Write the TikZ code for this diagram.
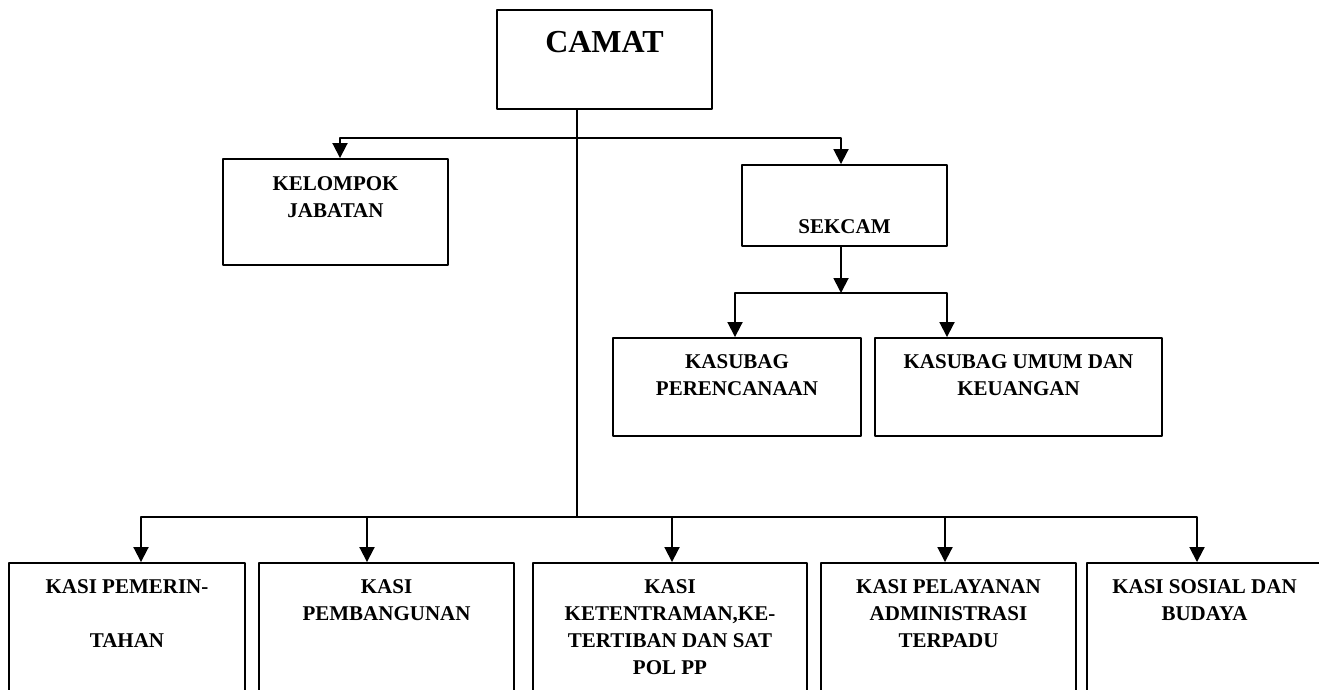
\documentclass[tikz,border=0pt]{standalone}
\usepackage{fontspec}
\setmainfont{Liberation Serif}
\usetikzlibrary{arrows.meta,positioning}
\tikzset{
	unitbox/.style={draw, rectangle, inner sep=0pt, line width=1.9pt},
	unitlabel/.style={inner sep=0pt, align=center, font=\fontsize{21}{26.7}\selectfont\bfseries},
}
\begin{document}
\begin{tikzpicture}[x=1pt, y=-1pt, line width=1.9pt, line join=round, >={Triangle[length=15pt,width=15pt]}]
	\useasboundingbox[fill=white] (0,0) rectangle (1319,690);
	
	% kotak jabatan
	\node[unitbox, minimum width=215pt, minimum height=99pt] (camat) at (604.5,59.5) {};
	\node[unitbox, minimum width=225pt, minimum height=106pt] (kelompok) at (335.5,212) {};
	\node[unitbox, minimum width=205pt, minimum height=81pt] (sekcam) at (844.5,205.5) {};
	\node[unitbox, minimum width=248pt, minimum height=98pt] (rencana) at (737,387) {};
	\node[unitbox, minimum width=287pt, minimum height=98pt] (umum) at (1018.5,387) {};
	\node[unitbox, minimum width=236pt, minimum height=157pt] (kasi1) at (127,641.5) {};
	\node[unitbox, minimum width=255pt, minimum height=157pt] (kasi2) at (386.5,641.5) {};
	\node[unitbox, minimum width=274pt, minimum height=157pt] (kasi3) at (670,641.5) {};
	\node[unitbox, minimum width=255pt, minimum height=157pt] (kasi4) at (948.5,641.5) {};
	\node[unitbox, minimum width=235pt, minimum height=157pt] (kasi5) at (1204.5,641.5) {};
	
	% teks
	\node[unitlabel, font=\fontsize{32}{38}\selectfont\bfseries, below=21pt of camat.north] (camat-t) {CAMAT};
	\node[unitlabel, below=18pt of kelompok.north] (kelompok-t) {KELOMPOK\\JABATAN};
	\node[unitlabel, below=55pt of sekcam.north] (sekcam-t) {SEKCAM};
	\node[unitlabel, below=17pt of rencana.north] (rencana-t) {KASUBAG\\PERENCANAAN};
	\node[unitlabel, below=17pt of umum.north] (umum-t) {KASUBAG UMUM DAN\\KEUANGAN};
	\node[unitlabel, below=17pt of kasi1.north] (kasi1-t) {KASI PEMERIN-\\[26.7pt]TAHAN};
	\node[unitlabel, below=17pt of kasi2.north] (kasi2-t) {KASI\\PEMBANGUNAN};
	\node[unitlabel, below=17pt of kasi3.north] (kasi3-t) {KASI\\KETENTRAMAN,KE-\\TERTIBAN DAN SAT\\POL PP};
	\node[unitlabel, below=17pt of kasi4.north] (kasi4-t) {KASI PELAYANAN\\ADMINISTRASI\\TERPADU};
	\node[unitlabel, below=17pt of kasi5.north] (kasi5-t) {KASI SOSIAL DAN\\BUDAYA};
	
	% titik cabang
	\path (577,138) coordinate (top)
		(340,138) coordinate (kel)
		(841,138) coordinate (sek)
		(841,293) coordinate (sub)
		(735,293) coordinate (ren)
		(947,293) coordinate (uang)
		(577,517) coordinate (bawah)
		(141,517) coordinate (k1)
		(367,517) coordinate (k2)
		(672,517) coordinate (k3)
		(945,517) coordinate (k4)
		(1197,517) coordinate (k5);
	
	\draw (top |- camat.south) -- (bawah);
	\draw[->] (top) -| (kel |- kelompok.north);
	\draw[->] (top) -| (sek |- sekcam.north);
	\draw[->] (sek |- sekcam.south) -- (sub);
	\draw[->] (sub) -| (ren |- rencana.north);
	\draw[->] (sub) -| (uang |- umum.north);
	\foreach \i in {1,...,5}
		\draw[->] (bawah) -| (k\i |- kasi\i.north);
\end{tikzpicture}
\end{document}
